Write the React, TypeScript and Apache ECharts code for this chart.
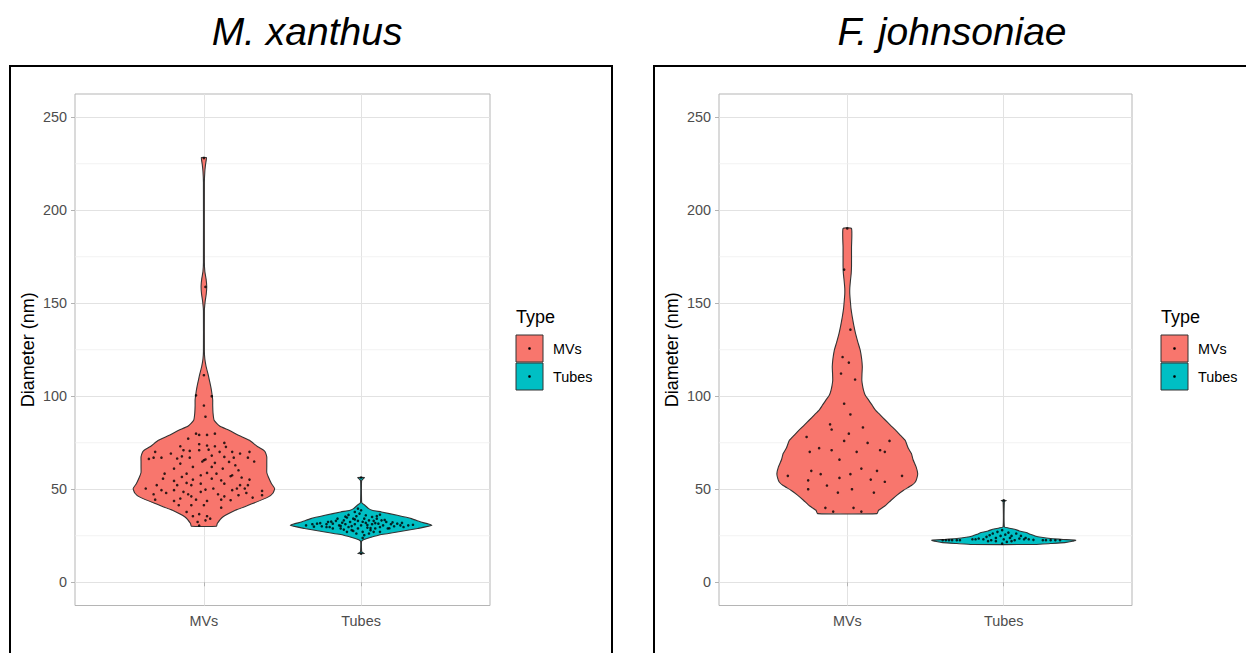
import React, { useEffect, useRef } from "react";
import * as echarts from "echarts";

const CATEGORIES = ["MVs", "Tubes"];
const Y_TICKS = [0, 50, 100, 150, 200, 250];
const Y_MINOR = [25, 75, 125, 175, 225];
const PANEL_TITLES = ["M. xanthus", "F. johnsoniae"];
const LEGEND_TITLE = "Type";
const Y_TITLE = "Diameter (nm)";
const FILL_COLORS = ["#F8766D", "#00BFC4"];

// violin outlines: [diameter, half width in category units]
const XAN_MVS_PROFILE = [
  [30.1, 0.08], [31.6, 0.085], [35.1, 0.12], [38.7, 0.2], [42.3, 0.31], [45.9, 0.41], [48, 0.44],
  [50.4, 0.45], [53, 0.43], [56.6, 0.41], [59, 0.4], [62, 0.4], [65, 0.4], [67.4, 0.4], [70, 0.39],
  [71, 0.38], [73, 0.34], [76.3, 0.29], [79, 0.22], [81.7, 0.16], [84, 0.1], [87.1, 0.065],
  [91, 0.058], [95, 0.056], [98, 0.056], [102, 0.05], [105, 0.044], [109, 0.034], [112, 0.026],
  [116, 0.014], [120, 0.006], [124, 0.003], [146, 0.003], [151, 0.008], [155, 0.015], [159, 0.018],
  [163, 0.014], [167, 0.006], [172, 0.003], [215, 0.003], [221, 0.006], [225, 0.011], [228.3, 0.016],
];
const XAN_TUBES_PROFILE = [
  [15.4, 0.02], [16.2, 0.006], [17, 0.003], [22, 0.003], [22.8, 0.015], [23.5, 0.037], [25.3, 0.11],
  [27, 0.23], [28.9, 0.36], [30.6, 0.45], [32.4, 0.38], [34.2, 0.32], [36, 0.23], [37.8, 0.13],
  [38.7, 0.07], [39.6, 0.048], [41.4, 0.024], [42.5, 0.006], [43.5, 0.003], [54.5, 0.003],
  [55.5, 0.012], [56.3, 0.021],
];
const FJ_MVS_PROFILE = [
  [36.9, 0.19], [38.7, 0.2], [41, 0.24], [44.1, 0.28], [47, 0.32], [49.5, 0.36], [52, 0.41],
  [53.9, 0.435], [56, 0.445], [58.4, 0.45], [62, 0.44], [66, 0.42], [69.2, 0.41], [72, 0.39],
  [76.3, 0.37], [79, 0.34], [81.7, 0.31], [84.5, 0.275], [87.1, 0.244], [90, 0.21], [92.5, 0.18],
  [95, 0.16], [97.8, 0.138], [100.5, 0.115], [103.2, 0.104], [106, 0.097], [108.6, 0.093],
  [112, 0.094], [115.8, 0.096], [120, 0.092], [124.7, 0.083], [129, 0.068], [133.7, 0.053],
  [138, 0.042], [142.6, 0.032], [147, 0.024], [151.6, 0.019], [155, 0.016], [158, 0.016],
  [162, 0.02], [166, 0.025], [170, 0.027], [180, 0.027], [190.2, 0.027],
];
const FJ_TUBES_PROFILE = [
  [20.3, 0.2], [20.8, 0.3], [21.3, 0.39], [22, 0.44], [22.6, 0.46], [23, 0.38], [23.5, 0.3],
  [24.2, 0.24], [24.9, 0.2], [25.8, 0.17], [26.7, 0.144], [27.6, 0.1], [28.5, 0.07], [29.2, 0.03],
  [29.8, 0.004], [43.3, 0.004], [44, 0.016],
];

// jittered observations: [horizontal offset in category units, diameter]
const XAN_MVS_POINTS = [
  [0, 228], [0.01, 158.8], [0.0, 111.3], [-0.05, 100.5], [0.05, 100], [0.0, 95], [0.01, 89],
  [-0.05, 79.9], [-0.03, 79.2], [0.02, 79.2], [0.07, 79.9], [-0.1, 77.2],
  [-0.15, 73.1], [-0.03, 74.2], [0.13, 74.9], [0.14, 72.8], [0.07, 73.1], [0.02, 73.5],
  [-0.31, 70.1], [-0.21, 69.2], [-0.13, 71.0], [-0.09, 70.6], [-0.03, 71.0], [0.03, 71.3], [0.1, 70.1], [0.18, 70.1], [0.23, 69.2], [0.29, 70.1],
  [-0.35, 66.3], [-0.32, 67.0], [-0.27, 67.0], [-0.17, 66.5], [-0.14, 67.7], [-0.09, 67.0], [0.01, 66.0], [0.05, 68.1], [0.13, 67.4], [0.19, 67.0], [0.28, 67.0], [0.32, 64.9],
  [-0.15, 63.8], [-0.01, 64.9], [0.0, 65.6], [0.07, 64.2], [0.16, 64.7], [0.2, 62.9],
  [-0.19, 61.1], [-0.07, 62.0], [0.05, 62.0], [0.12, 61.1], [0.22, 60.2],
  [-0.25, 58.4], [-0.11, 58.4], [-0.02, 57.5], [-0.14, 56.6], [0.02, 58.8], [0.08, 58.4], [0.18, 57.5],
  [-0.26, 55.7], [-0.19, 54.5], [-0.07, 55.2], [0.05, 55.7], [0.11, 54.8], [0.17, 57.0], [0.24, 56.3], [0.29, 55.2],
  [-0.3, 52.2], [-0.17, 52.2], [-0.08, 52.2], [-0.11, 53.4], [-0.02, 53.0], [0.13, 53.0], [0.23, 52.2], [0.28, 52.2],
  [-0.37, 50.4], [-0.27, 49.5], [-0.19, 49.5], [-0.13, 48.6], [0.01, 49.8], [0.06, 50.4], [0.18, 49.5], [0.21, 50.4], [0.26, 50.4], [0.37, 49.1],
  [-0.32, 47.3], [-0.24, 48.0], [-0.1, 47.3], [-0.02, 48.6], [0.09, 47.3], [0.13, 46.2], [0.22, 46.8], [0.27, 48.0], [0.31, 45.5], [0.37, 46.8],
  [-0.31, 44.4], [-0.19, 43.7], [-0.15, 45.0], [-0.08, 46.2], [-0.05, 44.4], [0.02, 43.7], [0.11, 44.4], [0.17, 44.1],
  [-0.16, 41.4], [-0.08, 41.4], [0.11, 40.1], [0.0, 41.4],
  [-0.07, 35.5], [-0.03, 36.6], [0.02, 35.5], [0.04, 34.2], [-0.11, 37.8],
  [-0.04, 32.4], [0.01, 33.3], [-0.03, 30.5],
];
const XAN_TUBES_POINTS = [
  [-0.35, 30.6], [-0.31, 31.2], [-0.28, 31.5], [-0.25, 30.1], [-0.22, 31.2], [-0.21, 32.4], [-0.2, 29.7],
  [-0.18, 31.5], [-0.16, 33.0], [-0.14, 30.6], [-0.13, 28.9], [-0.11, 33.3], [-0.1, 31.2], [-0.09, 34.8],
  [-0.08, 29.7], [-0.07, 32.4], [-0.06, 28.0], [-0.05, 34.2], [-0.04, 31.2], [-0.03, 35.5], [-0.02, 28.9],
  [-0.02, 33.0], [-0.01, 36.9], [0.0, 30.6], [0.01, 27.1], [0.02, 34.2], [0.03, 31.9], [0.03, 36.0],
  [0.04, 29.4], [0.05, 33.3], [0.06, 28.0], [0.07, 35.1], [0.07, 31.2], [0.08, 33.0], [0.09, 28.9],
  [0.1, 34.2], [0.11, 31.5], [0.12, 29.7], [0.13, 33.3], [0.14, 30.6], [0.16, 32.4], [0.17, 28.9],
  [0.19, 31.2], [0.21, 30.1], [0.23, 31.5], [0.25, 30.6], [0.27, 29.7], [0.3, 30.6], [-0.03, 26.2],
  [0.02, 25.3], [-0.04, 37.8], [0.0, 38.7], [-0.05, 27.6], [-0.09, 27.1], [0.05, 26.2], [-0.18, 28.9],
  [-0.22, 29.7], [-0.15, 34.2], [-0.11, 28.3], [0.08, 27.1], [0.12, 27.1], [-0.02, 39.6],
  [-0.12, 32.0], [0.15, 33.5], [0.18, 29.0], [-0.19, 32.6], [0.04, 30.8], [-0.06, 30.2], [0.09, 31.8],
  [-0.13, 30.3], [0.2, 32.2], [-0.26, 31.8], [0.26, 31.9], [-0.3, 29.9], [0.33, 30.9], [0.01, 32.5],
  [-0.04, 33.8], [0.06, 29.1], [-0.08, 36.2], [0.1, 35.6], [-0.1, 35.3], [0.12, 36.3], [0.01, 23.8],
  [0.0, 56.3], [0.0, 15.4],
];
const FJ_MVS_POINTS = [
  [0, 190.2], [-0.02, 168.1], [0.02, 135.8], [-0.03, 121.1], [0.01, 118.1], [-0.04, 112.2], [0.05, 109.0],
  [-0.02, 96.0], [0.02, 90.2],
  [-0.11, 84.9], [-0.1, 82.1], [0.1, 83.2], [-0.26, 78.1], [0.01, 79.9], [-0.02, 76.0], [0.13, 74.9], [0.27, 76.0],
  [-0.24, 70.1], [-0.18, 72.1], [-0.1, 71.0], [0.06, 70.1], [0.21, 71.0], [0.24, 70.1], [-0.05, 65.9],
  [-0.38, 57.2], [-0.23, 59.9], [-0.17, 58.1], [-0.25, 54.8], [-0.05, 56.1], [0.02, 58.1], [0.09, 61.1],
  [0.15, 55.2], [0.19, 59.9], [0.24, 54.0], [0.35, 57.2],
  [-0.13, 52.0], [-0.25, 50.0], [-0.06, 48.2], [0.03, 50.0], [0.17, 48.2],
  [-0.14, 40.0], [-0.09, 38.0], [0.04, 40.0], [0.09, 38.0],
];
const FJ_TUBES_POINTS = [
  [-0.39, 22.6], [-0.37, 22.6], [-0.35, 22.6], [-0.33, 22.6], [-0.3, 22.6], [-0.28, 22.6],
  [0.25, 22.6], [0.27, 22.6], [0.3, 22.6], [0.33, 22.6], [0.36, 22.6],
  [-0.2, 23.1], [-0.18, 23.1], [-0.16, 23.5], [-0.13, 23.1], [-0.11, 24.4], [-0.09, 25.3], [-0.08, 22.6],
  [-0.07, 26.2], [-0.05, 23.8], [-0.04, 27.1], [-0.02, 24.9], [-0.01, 28.0], [0.0, 23.1], [0.01, 25.6],
  [0.02, 21.7], [0.03, 26.7], [0.04, 23.8], [0.05, 24.9], [0.07, 22.6], [0.08, 26.2], [0.1, 23.5],
  [0.11, 24.9], [0.13, 23.1], [0.14, 23.8], [0.16, 23.1], [0.19, 22.8], [-0.05, 22.1], [-0.1, 22.1],
  [0.05, 22.1], [-0.01, 20.8], [0, 44],
];

const PANELS = [
  { profiles: [XAN_MVS_PROFILE, XAN_TUBES_PROFILE], points: [XAN_MVS_POINTS, XAN_TUBES_POINTS] },
  { profiles: [FJ_MVS_PROFILE, FJ_TUBES_PROFILE], points: [FJ_MVS_POINTS, FJ_TUBES_POINTS] },
];

const FONT = "'Liberation Sans', Arial, Helvetica, sans-serif";
const GRID_LEFTS = [75, 719];
const GRID_WIDTHS = [415, 413];
const GRID_TOP = 94;
const GRID_HEIGHT = 511.5;
const X_MIN = 0.18;
const X_MAX = 2.82;
const PANEL_OFFSET = 645;

function buildOption() {
  const grid = GRID_LEFTS.map((left, i) => ({
    left,
    top: GRID_TOP,
    width: GRID_WIDTHS[i],
    height: GRID_HEIGHT,
    show: true,
    backgroundColor: "#ffffff",
    borderColor: "#b5b5b5",
    borderWidth: 1,
    containLabel: false,
  }));
  const catPos = CATEGORIES.map((_, i) => i + 1);
  const xAxis = GRID_LEFTS.map((_, i) => ({
    type: "value",
    gridIndex: i,
    min: X_MIN,
    max: X_MAX,
    axisLine: { show: false },
    axisTick: { show: true, length: 4, customValues: catPos, lineStyle: { color: "#b3b3b3", width: 1 } },
    axisLabel: {
      customValues: catPos,
      formatter: (v: number) => CATEGORIES[Math.round(v) - 1] ?? "",
      color: "#4d4d4d",
      fontSize: 14.4,
      fontFamily: FONT,
      margin: 8,
    },
    splitLine: { show: true, lineStyle: { color: "#e2e2e2", width: 1 } },
  }));
  const yAxis = GRID_LEFTS.map((_, i) => ({
    type: "value",
    gridIndex: i,
    min: -12.5,
    max: 262.5,
    name: Y_TITLE,
    nameLocation: "middle",
    nameGap: 38,
    nameTextStyle: { fontSize: 18, color: "#000", fontFamily: FONT },
    axisLine: { show: false },
    axisTick: { show: true, length: 4, customValues: Y_TICKS, lineStyle: { color: "#b3b3b3", width: 1 } },
    axisLabel: { customValues: Y_TICKS, color: "#4d4d4d", fontSize: 14.4, fontFamily: FONT, margin: 8 },
    splitLine: { show: true, lineStyle: { color: "#e2e2e2", width: 1 } },
  }));

  const series: any[] = [];
  PANELS.forEach((panel, gi) => {
    series.push({
      type: "custom",
      xAxisIndex: gi,
      yAxisIndex: gi,
      z: 1,
      silent: true,
      data: Y_MINOR.map((v) => [1, v]),
      renderItem: (params: any, api: any) => {
        const cs = params.coordSys;
        const y = api.coord([1, api.value(1)])[1];
        return {
          type: "line",
          shape: { x1: cs.x, y1: y, x2: cs.x + cs.width, y2: y },
          style: { stroke: "#efefef", lineWidth: 0.8 },
        };
      },
    });
    panel.profiles.forEach((profile, ci) => {
      const cat = ci + 1;
      series.push({
        type: "custom",
        name: CATEGORIES[ci],
        xAxisIndex: gi,
        yAxisIndex: gi,
        z: 3,
        silent: true,
        data: [[cat, profile[0][0]]],
        renderItem: (_params: any, api: any) => {
          const right = profile.map(([v, hw]) => api.coord([cat + hw, v]));
          const left = profile
            .slice()
            .reverse()
            .map(([v, hw]) => api.coord([cat - hw, v]));
          return {
            type: "polygon",
            shape: { points: right.concat(left), smooth: 0.15 },
            style: { fill: FILL_COLORS[ci], stroke: "#333333", lineWidth: 1.1 },
          };
        },
      });
      series.push({
        type: "scatter",
        xAxisIndex: gi,
        yAxisIndex: gi,
        z: 4,
        silent: true,
        symbolSize: 2.6,
        itemStyle: { color: "#000000" },
        data: panel.points[ci].map(([j, v]) => [cat + j, v]),
      });
    });
  });

  const graphic: any[] = [];
  PANEL_TITLES.forEach((t, i) => {
    const off = i * PANEL_OFFSET;
    const titleX = [307, 952][i];
    graphic.push({
      type: "text",
      x: titleX,
      y: 31,
      style: {
        text: t,
        fontSize: 39,
        fontStyle: "italic",
        fontFamily: FONT,
        fill: "#000",
        align: "center",
        verticalAlign: "middle",
      },
    });
    graphic.push({
      type: "rect",
      shape: { x: [10, 654][i], y: 66, width: [602, 700][i], height: 700 },
      style: { fill: "none", stroke: "#000", lineWidth: 2 },
    });
    graphic.push({
      type: "text",
      x: 516 + off,
      y: 317,
      style: { text: LEGEND_TITLE, fontSize: 18, fontFamily: FONT, fill: "#000", align: "left", verticalAlign: "middle" },
    });
    CATEGORIES.forEach((c, ci) => {
      const ky = 335 + ci * 28;
      graphic.push({
        type: "rect",
        shape: { x: 516 + off, y: ky, width: 27, height: 27 },
        style: { fill: FILL_COLORS[ci], stroke: "#333333", lineWidth: 1 },
      });
      graphic.push({
        type: "circle",
        shape: { cx: 529.5 + off, cy: ky + 13.5, r: 1.3 },
        style: { fill: "#000" },
      });
      graphic.push({
        type: "text",
        x: 553 + off,
        y: ky + 14,
        style: { text: c, fontSize: 14.4, fontFamily: FONT, fill: "#000", align: "left", verticalAlign: "middle" },
      });
    });
  });

  return {
    animation: false,
    backgroundColor: "#ffffff",
    textStyle: { fontFamily: FONT },
    grid,
    xAxis,
    yAxis,
    series,
    graphic,
  };
}

export default function App() {
  const ref = useRef<HTMLDivElement>(null);
  useEffect(() => {
    if (!ref.current) return;
    const chart = echarts.init(ref.current, undefined, { renderer: "svg" });
    chart.setOption(buildOption() as any);
    return () => chart.dispose();
  }, []);
  return (
    <div
      ref={ref}
      style={{ position: "fixed", left: 0, top: 0, width: 1246, height: 653, background: "#fff" }}
    />
  );
}
